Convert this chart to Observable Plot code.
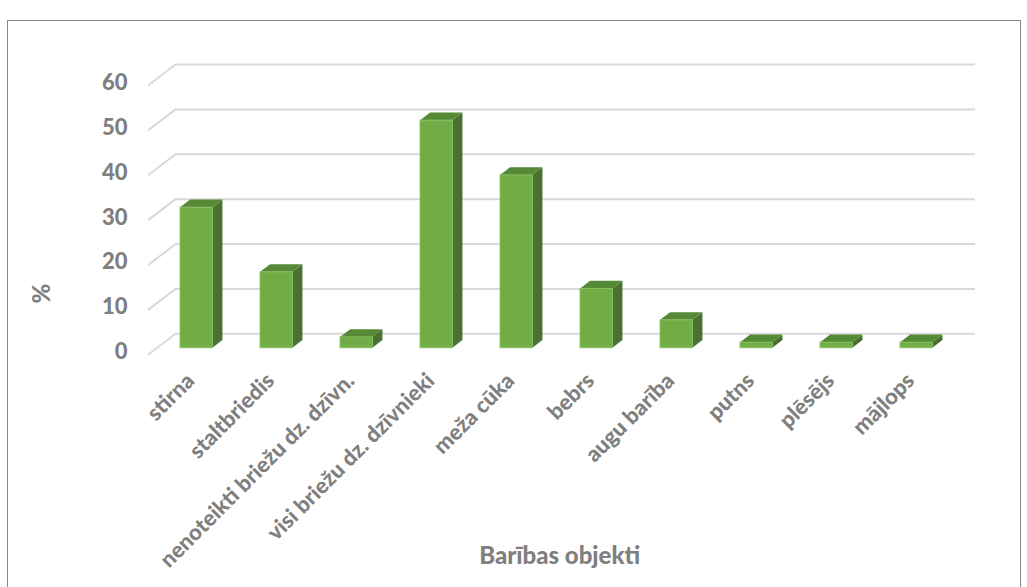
<!DOCTYPE html>
<html>
<head>
<meta charset="utf-8">
<script src="https://cdn.jsdelivr.net/npm/d3@7"></script>
<script src="https://cdn.jsdelivr.net/npm/@observablehq/plot@0.6"></script>
<style>
  html, body { margin: 0; padding: 0; background: #fff; }
  #wrap { position: relative; width: 1027px; height: 587px; overflow: hidden; }
  #wrap svg { display: block; position: absolute; left: 0; top: 0; }
  #border { position: absolute; left: 7px; top: 20px; width: 1012px; height: 600px;
            border: 1.5px solid #8a8a8a; pointer-events: none; }
</style>
</head>
<body>
<div id="wrap"><div id="border"></div></div>
<script>
// Diet composition (% of samples) by food item
const categories = [
  "stirna", "staltbriedis", "nenoteikti briežu dz. dzīvn.", "visi briežu dz. dzīvnieki",
  "meža cūka", "bebrs", "augu barība", "putns", "plēsējs", "mājlops"
];
const values = [31.3, 16.9, 2.4, 50.7, 38.5, 13.2, 6.2, 1.2, 1.2, 1.2];
const yTicks = [0, 10, 20, 30, 40, 50, 60];
const xTitle = "Barības objekti";
const yTitle = "%";

// Layout of the oblique "3-D" projection, in pixels
const W = 1027, H = 587;
const mL = 156.2, mR = 70.8, mT = 78.4, mB = 239.3;
const pxPerX = (W - mL - mR) / 10;   // px per category slot
const pxPerY = (H - mT - mB) / 60;   // px per percent
const slope = 1.31;                  // horizontal shift per px of depth lift
// convert a depth lift (px) into data-unit offsets
const depth = d => [slope * d / pxPerX, d / pxPerY];

const hw = 16.15 / pxPerX;           // half bar width
const [sx, sy] = depth(7.7);         // bar depth
const [bx, by] = depth(14.4);        // back wall
const [fx, fy] = depth(-6.6);        // front edge of the floor

const rows = categories.map((c, i) => ({c, i, v: values[i]}));
const sidePts = rows.flatMap(r => [
  {i: r.i, x: r.i + hw, y1: 0, y2: r.v},
  {i: r.i, x: r.i + hw + sx, y1: sy, y2: r.v + sy}
]);
const topPts = rows.flatMap(r => [
  {i: r.i, y: r.v, x1: r.i - hw, x2: r.i + hw},
  {i: r.i, y: r.v + sy, x1: r.i - hw + sx, x2: r.i + hw + sx}
]);

const grey = "#7f7f7f";
const font = "Lato, 'Open Sans', sans-serif";

const chart = Plot.plot({
  width: W, height: H,
  marginLeft: mL, marginRight: mR, marginTop: mT, marginBottom: mB,
  style: {fontFamily: font, background: "transparent"},
  x: {domain: [-0.5, 9.5], axis: null},
  y: {domain: [0, 60], axis: null},
  marks: [
    // back wall gridlines and their floor stubs
    Plot.ruleY(yTicks, {y: t => t + by, x1: -0.5 + bx, x2: 9.5 + bx, stroke: "#d9d9d9", strokeWidth: 2}),
    Plot.link(yTicks, {
      x1: -0.5 + fx, y1: t => t + fy, x2: -0.5 + bx, y2: t => t + by,
      stroke: "#d9d9d9", strokeWidth: 2
    }),
    // columns: side, top, front
    Plot.areaY(sidePts, {x: "x", y1: "y1", y2: "y2", z: "i", fill: "#4a7130"}),
    Plot.areaX(topPts, {y: "y", x1: "x1", x2: "x2", z: "i", fill: "#568a36"}),
    Plot.rect(rows, {x1: r => r.i - hw, x2: r => r.i + hw, y1: 0, y2: "v",
      fill: "#70ad47", stroke: "#86c15f", strokeWidth: 1}),
    // value axis labels
    Plot.text(yTicks, {x: -0.5, y: t => t, text: t => String(t), textAnchor: "end",
      dx: -29.2, dy: 4, fontSize: 22, fontWeight: 900, fill: grey}),
    // category labels
    Plot.text(rows, {x: "i", y: 0, text: "c", rotate: -45, textAnchor: "end",
      dx: -6, dy: 29, fontSize: 22, fontWeight: 900, fill: grey}),
    // axis titles
    Plot.text([xTitle], {frameAnchor: "bottom", text: d => d, dy: 216, dx: 3,
      fontSize: 24, fontWeight: 900, fill: grey}),
    Plot.text([yTitle], {frameAnchor: "left", text: d => d, rotate: -90, dx: -114, dy: 90,
      fontSize: 24, fontWeight: 900, fill: grey})
  ]
});
document.getElementById("wrap").prepend(chart);
</script>
</body>
</html>
